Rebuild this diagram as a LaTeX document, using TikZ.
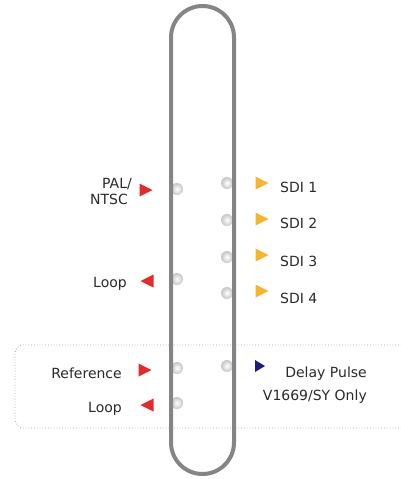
\documentclass[tikz,border=0pt]{standalone}
\usepackage{fontspec}
\setmainfont{DejaVu Sans}
\definecolor{tubegray}{HTML}{858585}
\definecolor{txtgray}{HTML}{2A2A2A}
\definecolor{ledred}{HTML}{E32B2B}
\definecolor{ledyellow}{HTML}{F5B52E}
\definecolor{lednavy}{HTML}{1C1C7C}
\begin{document}
\begin{tikzpicture}[x=1pt,y=-1pt,
  font=\fontsize{14}{16}\selectfont,
  lbl/.style={text=txtgray, inner sep=0pt},
  led/.style={circle, minimum size=12pt, inner sep=0pt, inner color=white, outer color=gray!45},
  rtri/.pic={\fill (-6.5,-6.5) -- (6.5,0) -- (-6.5,6.5) -- cycle;},
  ltri/.pic={\fill (6.5,-6.5) -- (-6.5,0) -- (6.5,6.5) -- cycle;},
  stri/.pic={\fill (-5,-6) -- (5,0) -- (-5,6) -- cycle;}
]
\useasboundingbox (0,0) rectangle (400,479);
\fill[white] (0,0) rectangle (400,479);

% dotted box
\draw[gray!70, dotted, line width=0.8pt, rounded corners=8pt]
  (410,345) -- (15,345) -- (15,428) -- (410,428);

% LEDs
\node[led] (l1) at (177,189) {};
\node[led] (l2) at (177,279) {};
\node[led] (l3) at (177,368) {};
\node[led] (l4) at (177,403) {};
\node[led] (r1) at (227,183) {};
\node[led] (r2) at (227,220) {};
\node[led] (r3) at (227,257) {};
\node[led] (r4) at (227,293) {};
\node[led] (r5) at (227,366) {};

% tube
\draw[tubegray, line width=4pt, rounded corners=31.5pt] (171,6) rectangle (234,474);

% triangles
\pic[ledred] at (146,190) {rtri};
\pic[ledred] at (147,281) {ltri};
\pic[ledred] at (145,370) {rtri};
\pic[ledred] at (147,405) {ltri};
\pic[ledyellow] at (262,183) {rtri};
\pic[ledyellow] at (262,219) {rtri};
\pic[ledyellow] at (262,255) {rtri};
\pic[ledyellow] at (262,291) {rtri};
\pic[lednavy] at (260,366) {stri};

% labels
\node[lbl, anchor=base east] (pal) at (132,188) {PAL/};
\node[lbl, anchor=base east] (ntsc) at (128,204) {NTSC};
\node[lbl, anchor=base east] (loop1) at (127,287) {Loop};
\node[lbl, anchor=base east] (ref) at (122,378) {Reference};
\node[lbl, anchor=base east] (loop2) at (122,412) {Loop};
\node[lbl, anchor=base west] (sdi1) at (280,192) {SDI 1};
\node[lbl, anchor=base west] (sdi2) at (280,228) {SDI 2};
\node[lbl, anchor=base west] (sdi3) at (280,266) {SDI 3};
\node[lbl, anchor=base west] (sdi4) at (280,303) {SDI 4};
\node[lbl, anchor=base east] (delay) at (367,377) {Delay Pulse};
\node[lbl, anchor=base east] (only) at (367,400) {V1669/SY Only};
\end{tikzpicture}
\end{document}
